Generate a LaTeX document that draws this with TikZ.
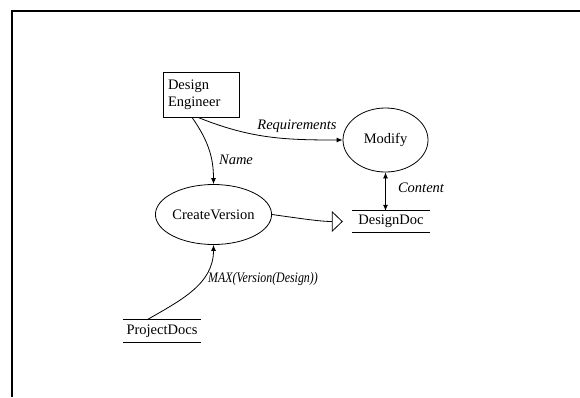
\documentclass[tikz,border=0pt]{standalone}
\usepackage{fontspec}
\usepackage{graphicx}
\setmainfont{Liberation Serif}
\usetikzlibrary{arrows.meta,shapes.geometric}

\tikzset{
  txt/.style={font=\rmfamily\fontsize{14.5}{17}\selectfont},
  lbl/.style={font=\rmfamily\fontsize{14.5}{17}\selectfont\itshape, inner sep=0pt},
  entity/.style={txt, draw, line width=0.8pt, rectangle, align=left,
    text width=66pt, minimum height=45pt, inner sep=5pt},
  process/.style={txt, draw, line width=0.8pt, ellipse, inner sep=0pt},
  store/.style={txt, inner sep=0pt, minimum width=78pt, minimum height=21pt},
  flow/.style={line width=0.8pt, -{Latex[length=6pt,width=5pt]}},
  frame/.style={line width=2pt}
}

\begin{document}
\begin{tikzpicture}[x=1pt,y=-1pt]
  \useasboundingbox (0,0) rectangle (580,397);

  % sheet border (top and left edges)
  \coordinate (fTL) at (12,11);
  \coordinate (fTR) at (580,11);
  \coordinate (fBL) at (12,397);
  \draw[frame] (fTR) -- (fTL) -- (fBL);

  % external entity
  \node[entity] (eng) at (201,94.5) {Design\\Engineer};

  % processes
  \node[process, minimum width=85pt, minimum height=64pt] (modify) at (385.5,140) {Modify};
  \node[process, minimum width=104pt, minimum height=60pt] (cv) at (213.5,214.5) {CreateVersion};

  % data stores
  \node[store] (dd) at (391,221.5) {DesignDoc};
  \draw[line width=0.8pt] (dd.north west) -- (dd.north east)
                          (dd.south west) -- (dd.south east);
  \node[store, minimum height=22pt] (pd) at (162,331) {ProjectDocs};
  \draw[line width=0.8pt] (pd.north west) -- (pd.north east)
                          (pd.south west) -- (pd.south east);

  % data flows
  \draw[flow] ([xshift=-3pt]eng.south) to[out=-22,in=180] (modify.west);
  \node[lbl] (lreq) at (297,126) {Requirements};

  \draw[flow] ([xshift=-9pt]eng.south) to[out=-55,in=90] (cv.north);
  \node[lbl] (lname) at (236,160) {Name};

  \draw[flow] ([xshift=-15pt]pd.north) to[out=30,in=-90] (cv.south);
  \node[lbl] (lmax) at (263,279) {\scalebox{0.82}[1]{MAX(Version(Design))}};

  \draw[line width=0.8pt, -{Triangle[open,length=11pt,width=21pt]}, shorten >=9pt]
    (cv.east) to[out=-8,in=180] (dd.west);

  \draw[line width=0.8pt, {Latex[length=6pt,width=5pt]}-{Latex[length=6pt,width=5pt]}]
    (modify.south) -- (modify.south |- dd.north);
  \node[lbl] (lcontent) at (421,188) {Content};
\end{tikzpicture}
\end{document}
